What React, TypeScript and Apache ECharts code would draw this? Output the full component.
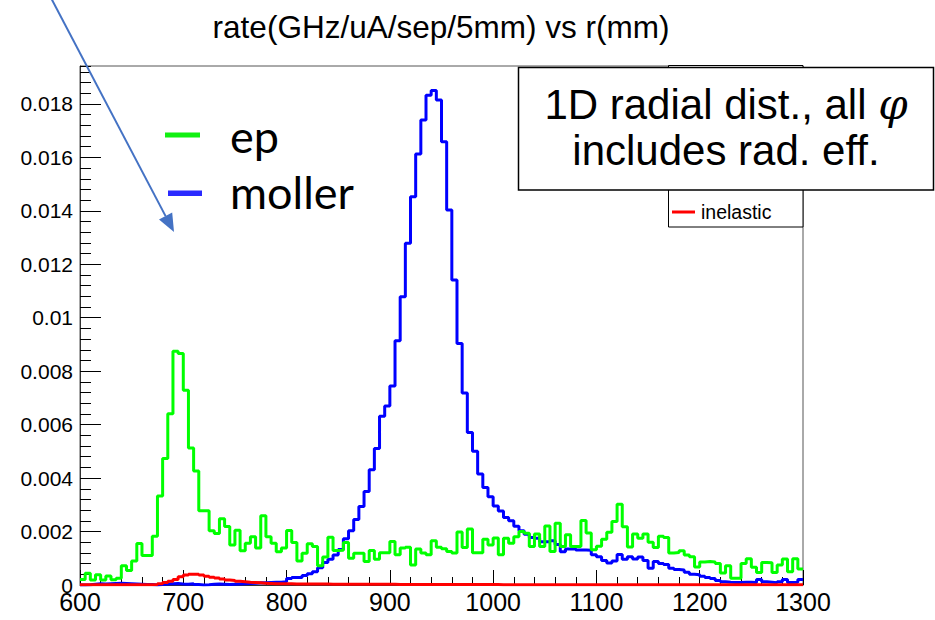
import React, { useEffect, useRef } from "react";
import * as echarts from "echarts";

// 5 mm bins from 600 to 1300 mm (140 bins)
const binStart = 600;
const binWidth = 5;

const epRate = [
  0.21e-3, 0.44e-3, 0.19e-3, 0.38e-3, 0.19e-3, 0.34e-3, 0.2e-3, 0.25e-3, 0.72e-3, 0.54e-3,
  0.9e-3, 1.55e-3, 1.1e-3, 1.1e-3, 1.82e-3, 3.33e-3, 4.73e-3, 6.41e-3, 8.75e-3, 8.66e-3,
  7.29e-3, 5.13e-3, 4.27e-3, 2.78e-3, 2.78e-3, 2.03e-3, 1.93e-3, 2.48e-3, 2.19e-3, 1.5e-3,
  2.05e-3, 1.28e-3, 1.56e-3, 1.81e-3, 1.38e-3, 2.59e-3, 1.81e-3, 1.56e-3, 1.24e-3, 1.38e-3,
  2.04e-3, 1.59e-3, 0.9e-3, 1.19e-3, 1.54e-3, 1.44e-3, 0.72e-3, 1.05e-3, 1.79e-3, 1.29e-3,
  1.3e-3, 1.59e-3, 1.0e-3, 1.19e-3, 1.19e-3, 0.88e-3, 1.29e-3, 0.96e-3, 1.21e-3, 1.21e-3,
  1.63e-3, 1.13e-3, 1.38e-3, 1.41e-3, 0.75e-3, 1.35e-3, 1.2e-3, 1.13e-3, 1.66e-3, 1.41e-3,
  1.36e-3, 1.25e-3, 1.2e-3, 1.98e-3, 1.4e-3, 2.1e-3, 1.21e-3, 1.21e-3, 1.71e-3, 1.5e-3,
  1.76e-3, 1.13e-3, 1.75e-3, 1.56e-3, 1.81e-3, 2.0e-3, 1.94e-3, 1.44e-3, 1.91e-3, 1.44e-3,
  2.21e-3, 1.25e-3, 2.31e-3, 1.44e-3, 1.88e-3, 1.44e-3, 1.44e-3, 2.41e-3, 1.95e-3, 1.32e-3,
  1.45e-3, 1.71e-3, 1.97e-3, 2.38e-3, 3.02e-3, 2.18e-3, 1.42e-3, 1.91e-3, 1.75e-3, 1.91e-3,
  1.6e-3, 1.4e-3, 1.82e-3, 1.78e-3, 1.2e-3, 1.22e-3, 1.28e-3, 1.12e-3, 1.06e-3, 0.67e-3,
  0.86e-3, 0.88e-3, 0.86e-3, 0.8e-3, 0.45e-3, 0.72e-3, 0.25e-3, 0.25e-3, 0.8e-3, 0.98e-3,
  0.66e-3, 0.47e-3, 0.84e-3, 0.83e-3, 0.47e-3, 0.75e-3, 0.97e-3, 0.5e-3, 0.98e-3, 0.6e-3,
];

const mollerRate = [
  0.0, 0.01e-3, 0.03e-3, 0.05e-3, 0.04e-3, 0.05e-3, 0.06e-3, 0.07e-3, 0.06e-3, 0.05e-3,
  0.04e-3, 0.03e-3, 0.02e-3, 0.02e-3, 0.0, 0.02e-3, 0.04e-3, 0.05e-3, 0.06e-3, 0.04e-3,
  0.03e-3, 0.05e-3, 0.02e-3, 0.0, 0.01e-3, 0.03e-3, 0.04e-3, 0.03e-3, 0.02e-3, 0.03e-3,
  0.04e-3, 0.05e-3, 0.06e-3, 0.07e-3, 0.08e-3, 0.08e-3, 0.09e-3, 0.1e-3, 0.1e-3, 0.12e-3,
  0.24e-3, 0.28e-3, 0.28e-3, 0.36e-3, 0.42e-3, 0.5e-3, 0.65e-3, 0.84e-3, 0.96e-3, 1.12e-3,
  1.33e-3, 1.73e-3, 2.03e-3, 2.45e-3, 2.94e-3, 3.5e-3, 4.31e-3, 5.11e-3, 6.31e-3, 6.7e-3,
  7.45e-3, 9.14e-3, 10.79e-3, 12.79e-3, 14.53e-3, 16.13e-3, 17.4e-3, 18.33e-3, 18.5e-3, 18.15e-3,
  16.59e-3, 14.03e-3, 11.41e-3, 9.04e-3, 7.18e-3, 5.71e-3, 5.0e-3, 4.15e-3, 3.65e-3, 3.3e-3,
  2.96e-3, 2.77e-3, 2.53e-3, 2.4e-3, 2.2e-3, 2.03e-3, 1.9e-3, 1.78e-3, 1.75e-3, 1.62e-3,
  1.62e-3, 1.66e-3, 1.52e-3, 1.24e-3, 1.35e-3, 1.36e-3, 1.31e-3, 1.31e-3, 1.3e-3, 1.13e-3,
  1.06e-3, 0.92e-3, 0.82e-3, 0.9e-3, 1.14e-3, 0.96e-3, 1.06e-3, 0.97e-3, 1.05e-3, 0.92e-3,
  0.63e-3, 0.88e-3, 0.8e-3, 0.77e-3, 0.63e-3, 0.58e-3, 0.56e-3, 0.48e-3, 0.4e-3, 0.38e-3,
  0.33e-3, 0.28e-3, 0.24e-3, 0.17e-3, 0.12e-3, 0.1e-3, 0.09e-3, 0.09e-3, 0.1e-3, 0.1e-3,
  0.09e-3, 0.21e-3, 0.12e-3, 0.1e-3, 0.08e-3, 0.12e-3, 0.21e-3, 0.09e-3, 0.1e-3, 0.21e-3,
];

const inelasticRate = [
  0.01e-3, 0.01e-3, 0.01e-3, 0.01e-3, 0.01e-3, 0.01e-3, 0.01e-3, 0.01e-3, 0.01e-3, 0.01e-3,
  0.01e-3, 0.01e-3, 0.01e-3, 0.01e-3, 0.02e-3, 0.05e-3, 0.09e-3, 0.14e-3, 0.21e-3, 0.31e-3,
  0.37e-3, 0.4e-3, 0.4e-3, 0.37e-3, 0.33e-3, 0.29e-3, 0.26e-3, 0.22e-3, 0.19e-3, 0.17e-3,
  0.14e-3, 0.12e-3, 0.1e-3, 0.09e-3, 0.08e-3, 0.07e-3, 0.06e-3, 0.05e-3, 0.05e-3, 0.05e-3,
  0.05e-3, 0.04e-3, 0.04e-3, 0.04e-3, 0.04e-3, 0.04e-3, 0.04e-3, 0.04e-3, 0.03e-3, 0.03e-3,
  0.03e-3, 0.03e-3, 0.03e-3, 0.03e-3, 0.03e-3, 0.03e-3, 0.03e-3, 0.03e-3, 0.03e-3, 0.03e-3,
  0.03e-3, 0.02e-3, 0.02e-3, 0.02e-3, 0.02e-3, 0.02e-3, 0.02e-3, 0.02e-3, 0.02e-3, 0.02e-3,
  0.02e-3, 0.02e-3, 0.02e-3, 0.02e-3, 0.02e-3, 0.02e-3, 0.02e-3, 0.02e-3, 0.02e-3, 0.02e-3,
  0.02e-3, 0.01e-3, 0.01e-3, 0.01e-3, 0.01e-3, 0.01e-3, 0.01e-3, 0.01e-3, 0.01e-3, 0.01e-3,
  0.01e-3, 0.01e-3, 0.01e-3, 0.01e-3, 0.01e-3, 0.01e-3, 0.01e-3, 0.01e-3, 0.01e-3, 0.01e-3,
  0.01e-3, 0.01e-3, 0.01e-3, 0.01e-3, 0.01e-3, 0.01e-3, 0.01e-3, 0.01e-3, 0.01e-3, 0.01e-3,
  0.01e-3, 0.01e-3, 0.01e-3, 0.01e-3, 0.01e-3, 0.01e-3, 0.01e-3, 0.01e-3, 0.01e-3, 0.01e-3,
  0.01e-3, 0.01e-3, 0.01e-3, 0.01e-3, 0.01e-3, 0.01e-3, 0.01e-3, 0.01e-3, 0.01e-3, 0.01e-3,
  0.01e-3, 0.01e-3, 0.01e-3, 0.01e-3, 0.01e-3, 0.01e-3, 0.01e-3, 0.01e-3, 0.01e-3, 0.01e-3,
];

const yMajorTicks = [0, 0.002, 0.004, 0.006, 0.008, 0.01, 0.012, 0.014, 0.016, 0.018];
const titleText = "rate(GHz/uA/sep/5mm) vs r(mm)";
const noteLine1 = "1D radial dist., all ";
const noteLine2 = "includes rad. eff.";

const FONT = "'Liberation Sans', Arial, Helvetica, sans-serif";

function toSteps(vals: number[]): number[][] {
  const pts = vals.map((v, i) => [binStart + i * binWidth, v]);
  pts.push([binStart + vals.length * binWidth, vals[vals.length - 1]]);
  return pts;
}

export default function App() {
  const ref = useRef<HTMLDivElement>(null);
  useEffect(() => {
    if (!ref.current) return;
    const chart = echarts.init(ref.current, undefined, { renderer: "svg" });
    const histSeries = (name: string, vals: number[], color: string) => ({
      name,
      type: "line",
      step: "end",
      data: toSteps(vals),
      symbol: "none",
      silent: true,
      lineStyle: { color, width: 3 },
      itemStyle: { color },
    });
    chart.setOption({
      animation: false,
      backgroundColor: "#ffffff",
      grid: {
        left: 80,
        top: 66,
        right: 132,
        bottom: 35,
        show: true,
        borderColor: "#555",
        borderWidth: 1,
        backgroundColor: "transparent",
      },
      xAxis: {
        type: "value",
        min: 600,
        max: 1300,
        interval: 100,
        axisLine: { show: true, lineStyle: { color: "#333", width: 1 } },
        axisTick: { show: true, inside: true, length: 15, lineStyle: { color: "#000", width: 1 } },
        minorTick: { show: true, splitNumber: 5, length: 8, lineStyle: { color: "#000", width: 1 } },
        splitLine: { show: false },
        minorSplitLine: { show: false },
        axisLabel: {
          fontFamily: FONT,
          fontSize: 25,
          color: "#000",
          margin: 4,
          formatter: (v: number) => String(v),
        },
      },
      yAxis: [
        {
          type: "value",
          min: 0,
          max: 0.01942,
          position: "left",
          axisLine: { show: true, lineStyle: { color: "#333", width: 1 } },
          axisTick: {
            show: true,
            inside: true,
            length: 21,
            customValues: yMajorTicks,
            lineStyle: { color: "#000", width: 1 },
          },
          splitLine: { show: false },
          axisLabel: {
            customValues: yMajorTicks,
            fontFamily: FONT,
            fontSize: 21,
            color: "#000",
            margin: 7,
            formatter: (v: number) => (v === 0 ? "0" : String(parseFloat(v.toFixed(4)))),
          },
        },
        {
          type: "value",
          min: 0,
          max: 0.01942,
          interval: 0.0004,
          position: "left",
          axisLine: { show: false },
          axisTick: { show: true, inside: true, length: 11, lineStyle: { color: "#000", width: 1 } },
          axisLabel: { show: false },
          splitLine: { show: false },
        },
      ],
      series: [
        histSeries("moller", mollerRate, "#0000ff"),
        histSeries("ep", epRate, "#00ff00"),
        histSeries("inelastic", inelasticRate, "#ff0000"),
      ],
      graphic: [
        {
          type: "text",
          x: 441,
          y: 27,
          z: 100,
          style: {
            text: titleText,
            font: `31.5px ${FONT}`,
            fill: "#000",
            textAlign: "center",
            textVerticalAlign: "middle",
          },
        },
        // arrow annotation
        {
          type: "line",
          z: 100,
          shape: { x1: 50, y1: -4, x2: 165.6, y2: 216.1 },
          style: { stroke: "#4472C4", lineWidth: 2 },
        },
        {
          type: "polygon",
          z: 100,
          shape: { points: [[174, 232], [159, 219.6], [172.2, 212.6]] },
          style: { fill: "#4472C4" },
        },
        // ep / moller overlay legend
        { type: "rect", z: 100, shape: { x: 165, y: 132.5, width: 35, height: 5 }, style: { fill: "#11f011" } },
        { type: "rect", z: 100, shape: { x: 168, y: 190.5, width: 34, height: 5.5 }, style: { fill: "#2a2aff" } },
        {
          type: "text",
          x: 230,
          y: 136,
          z: 100,
          style: { text: "ep", font: "45px Lato, 'Open Sans', sans-serif", fill: "#000", textVerticalAlign: "middle" },
        },
        {
          type: "text",
          x: 230,
          y: 192,
          z: 100,
          style: { text: "moller", font: "45px Lato, 'Open Sans', sans-serif", fill: "#000", textVerticalAlign: "middle" },
        },
        // ROOT legend box
        {
          type: "rect",
          z: 100,
          shape: { x: 668.5, y: 65.5, width: 134.5, height: 161.5 },
          style: { fill: "#fff", stroke: "#000", lineWidth: 1 },
        },
        {
          type: "line",
          z: 101,
          shape: { x1: 672, y1: 212, x2: 695, y2: 212 },
          style: { stroke: "#ff0000", lineWidth: 3 },
        },
        {
          type: "text",
          x: 701,
          y: 212,
          z: 101,
          style: { text: "inelastic", font: `19.5px ${FONT}`, fill: "#000", textVerticalAlign: "middle" },
        },
        // annotation box
        {
          type: "rect",
          z: 110,
          shape: { x: 518.5, y: 67.5, width: 415, height: 122.5 },
          style: { fill: "#fff", stroke: "#000", lineWidth: 1.5 },
        },
        {
          type: "text",
          x: 726,
          y: 104,
          z: 111,
          style: {
            text: noteLine1 + "{phi|φ}",
            font: `42px ${FONT}`,
            fill: "#000",
            textAlign: "center",
            textVerticalAlign: "middle",
            rich: {
              phi: { fontFamily: "'DejaVu Serif', serif", fontStyle: "italic", fontSize: 42, fill: "#000" },
            },
          },
        },
        {
          type: "text",
          x: 726,
          y: 150,
          z: 111,
          style: {
            text: noteLine2,
            font: `42px ${FONT}`,
            fill: "#000",
            textAlign: "center",
            textVerticalAlign: "middle",
          },
        },
      ],
    });
    return () => chart.dispose();
  }, []);
  return <div ref={ref} style={{ position: "absolute", left: 0, top: 0, width: 935, height: 620 }} />;
}
